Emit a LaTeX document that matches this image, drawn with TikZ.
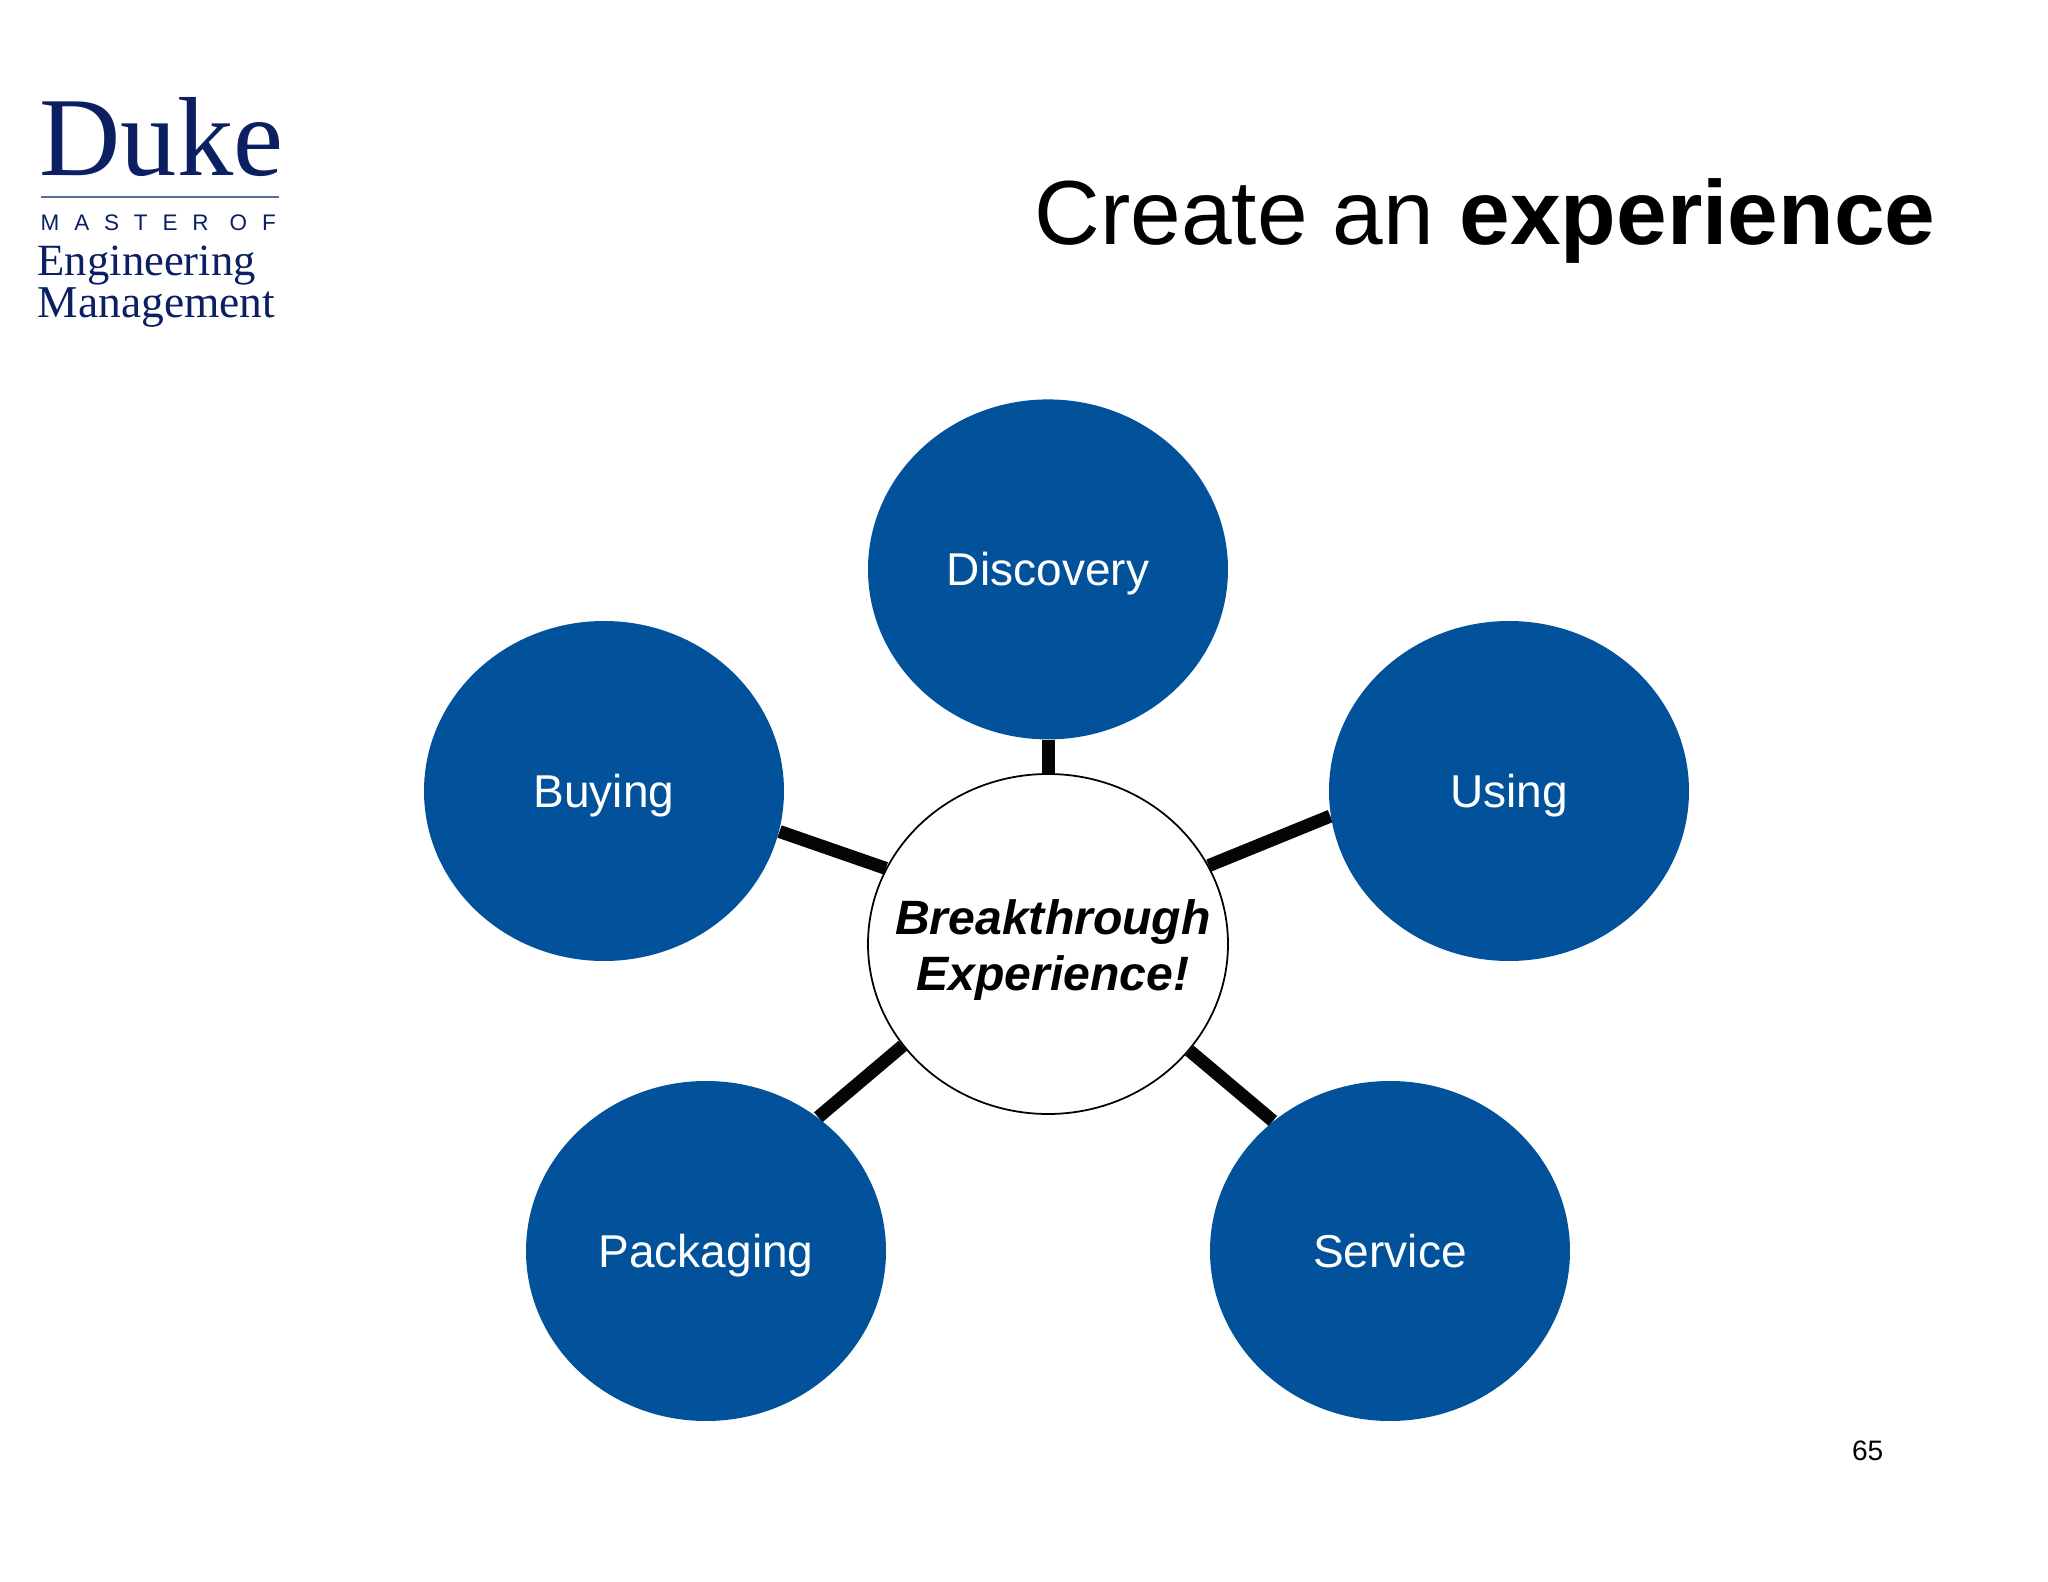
\documentclass[tikz,border=0pt]{standalone}
\usepackage{fontspec}
\usepackage{xcolor}
\usepackage{tikz}
\usetikzlibrary{shapes.geometric,backgrounds,positioning}
\setmainfont{Liberation Sans}
\newfontfamily\logoserif{Liberation Serif}
\newfontfamily\logosans[LetterSpace=66]{Liberation Sans}
\definecolor{DukeNavy}{HTML}{0B1F62}
\definecolor{DukeRule}{HTML}{5A7199}
\definecolor{PetalBlue}{HTML}{02529B}
\definecolor{SpokeInk}{HTML}{050505}
\tikzset{
  petal/.style={ellipse,fill=PetalBlue,text=white,inner sep=0pt,
    minimum width=36mm,minimum height=34mm,text height=9.4pt,text depth=0pt,
    font=\fontsize{13.1}{16}\selectfont},
  hub/.style={ellipse,draw=black,line width=0.5pt,fill=white,inner xsep=-4mm,inner ysep=0pt,align=center,
    minimum width=36mm,minimum height=34mm,
    font=\fontsize{13.7}{16}\selectfont\bfseries\itshape},
  spoke/.style={line width=1.3mm,draw=SpokeInk},
  logotext/.style={text=DukeNavy,anchor=base west,inner sep=0pt},
  slidetext/.style={text=black,anchor=base east,inner sep=0pt}
}
\begin{document}
\begin{tikzpicture}
      \path[use as bounding box] (0,0) rectangle (20.48,-15.82);

      \node[logotext,font=\logoserif\fontsize{32}{32}\selectfont] (duke) at (0.39,-1.76) {Duke};
      \coordinate (ruleleft) at (0.41,-1.97);
      \coordinate (ruleright) at (2.79,-1.97);
      \draw[DukeRule,line width=0.4pt] (ruleleft) -- (ruleright);
      \node[logotext,font=\logosans\fontsize{6.4}{8}\selectfont] (master) at (0.40,-2.31) {MASTER OF};
      \node[logotext,font=\logoserif\fontsize{12.7}{14}\selectfont] (engineering) at (0.37,-2.76) {Engineering};
      \node[logotext,font=\logoserif\fontsize{12.95}{14}\selectfont] (management) at (0.37,-3.18) {Management};

      \node[slidetext,font=\fontsize{25.9}{30}\selectfont] (title) at (19.36,-2.45) {Create an \textbf{experience}};
      \node[slidetext,font=\fontsize{8}{10}\selectfont] (pagenum) at (18.84,-14.60) {65};

      \node[hub] (center) at (10.48,-9.44) {\rule{0pt}{13.4pt}\hspace*{1mm}Breakthrough\\\hspace*{1mm}Experience!};
      \node[petal,above=3.3mm of center] (discovery) {Discovery};
      \node[petal] (buying) at (6.04,-7.91) {Buying};
      \node[petal] (using) at (15.09,-7.91) {Using};
      \node[petal] (packaging) at (7.06,-12.51) {Packaging};
      \node[petal] (service) at (13.90,-12.51) {Service};

      \begin{scope}[on background layer]
        \draw[spoke] (center.north) -- (discovery.south);
        \draw[spoke] (center.155.5) -- (buying.-13.6);
        \draw[spoke] (center.26) -- (using.188);
        \draw[spoke] (center.215) -- (packaging.50);
        \draw[spoke] (center.-37) -- (service.132);
      \end{scope}
    \end{tikzpicture}
\end{document}
